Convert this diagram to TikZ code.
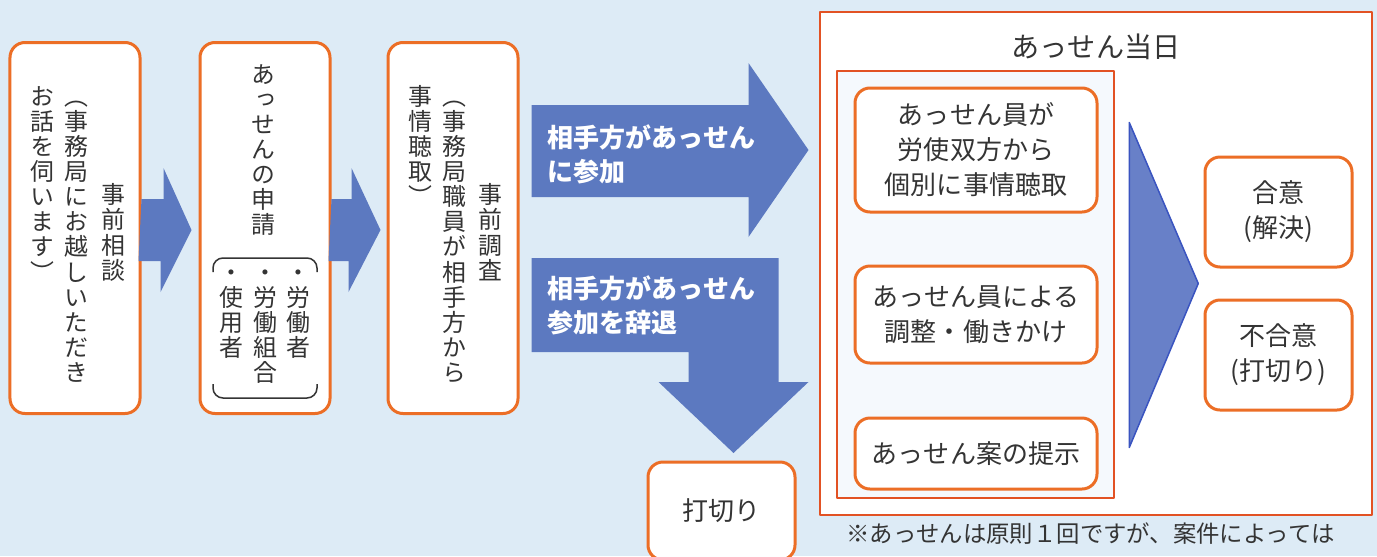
\documentclass[tikz,border=0pt]{standalone}
\usepackage{fontspec}
\usepackage{tikz}
\usetikzlibrary{positioning,calc}
\setmainfont{Noto Sans CJK JP}
\newfontfamily\tatefont[RawFeature=+vert]{Noto Sans CJK JP}
\definecolor{bgblue}{RGB}{221,235,246}
\definecolor{boxorange}{RGB}{236,110,38}
\definecolor{framered}{RGB}{226,82,36}
\definecolor{arrowblue}{RGB}{92,121,192}
\definecolor{edgeblue}{RGB}{58,84,192}
\definecolor{wedgeblue}{RGB}{104,128,200}
\definecolor{inkgray}{RGB}{52,52,52}
\definecolor{procfill}{RGB}{245,249,253}
% one glyph per line, for the upright columns
\ExplSyntaxOn
\NewDocumentCommand \tate { m }
  {
    \vtop
      {
        \offinterlineskip
        \tl_map_inline:nn {#1}
          {
            \hbox_to_wd:nn {1em}
              { \hss \vrule~height~.88em~depth~.12em~width~0pt ##1 \hss }
            \kern.05em
          }
      }
  }
\ExplSyntaxOff
\tikzset{
  flow box/.style={
    draw=boxorange,
    line width=0.6mm,
    fill=white,
    rounded corners=3mm,
    inner sep=0pt,
    text=inkgray,
    align=center,
    font=\fontsize{14.8pt}{19.9pt}\selectfont
  },
  tall box/.style={
    flow box,
    minimum width=26mm,
    minimum height=74.2mm
  },
  step box/.style={
    flow box,
    minimum width=48.4mm
  },
  result box/.style={
    flow box,
    minimum width=29.4mm,
    minimum height=22mm
  },
  frame/.style={
    draw=framered,
    line width=0.5mm,
    inner sep=0pt
  },
  tate text/.style={
    inner sep=0pt,
    text=inkgray,
    font=\tatefont\fontsize{13.6pt}{13.6pt}\selectfont
  },
  arrow text/.style={
    inner sep=0pt,
    text=white,
    align=left,
    font=\bfseries\fontsize{14.8pt}{19.4pt}\selectfont
  },
  block arrow/.style={fill=arrowblue},
  bracket/.style={draw=inkgray, line width=0.3mm, rounded corners=2mm}
}

\begin{document}
\begin{tikzpicture}[x=0.2mm, y=-0.2mm, line join=round]
 \fill[bgblue] (0,0) rectangle (1377,556);
 \useasboundingbox (0,0) rectangle (1377,556);
 % before the day
 \node[tall box] (box_1) at (75,228) {};
 \node[tall box] (box_2) at (265,228) {};
 \node[tall box] (box_3) at (453,228) {};
 \node[tate text] (head_1) at (113,233) {\tate{事前相談}};
 \node[tate text, anchor=north] (sub_1a) at (76,84) {\tate{（事務局にお越しいただき}};
 \node[tate text, anchor=north] (sub_1b) at (42,84) {\tate{お話を伺います）}};
 \node[tate text, anchor=north] (head_2) at (263,62) {\tate{あっせんの申請}};
 \node[tate text, anchor=north] (who_1) at (298,260) {\tate{・労働者}};
 \node[tate text, anchor=north] (who_2) at (265,260) {\tate{・労働組合}};
 \node[tate text, anchor=north] (who_3) at (231,260) {\tate{・使用者}};
 \draw[bracket] (213,272) -- (213,258) -- (317,258) -- (317,272);
 \draw[bracket] (213,384) -- (213,398) -- (317,398) -- (317,384);
 \node[tate text] (head_3) at (490,233) {\tate{事前調査}};
 \node[tate text, anchor=north] (sub_3a) at (454,84) {\tate{（事務局職員が相手方から}};
 \node[tate text, anchor=north] (sub_3b) at (420,84) {\tate{事情聴取）}};
 \fill[block arrow] (box_1.east) ++(0,-29) -- ++(22,0) -- ++(0,-31)
   -- ($(box_2.west)+(-7,2)$) -- ++(-31,62) -- ++(0,-31) -- ++(-22,0) -- cycle;
 \fill[block arrow] (box_2.east) ++(0,-29) -- ++(20,0) -- ++(0,-31)
   -- ($(box_3.west)+(-6,2)$) -- ++(-32,62) -- ++(0,-31) -- ++(-20,0) -- cycle;
 % the other side answers
 \node[tall box, minimum width=29.4mm, minimum height=19.6mm] (cut) at (721.5,511) {打切り};
 \fill[block arrow] ($(box_3.east)+(12,-123)$) -- ++(217,0) -- ++(0,-42)
   -- ++(60,87) -- ++(-60,87) -- ++(0,-40) -- ++(-217,0) -- cycle;
 \fill[block arrow] ($(box_3.east)+(12,30)$) -- ++(247,0) -- ++(0,124)
   -- ++(30,0) -- ++(-75,71) -- ++(-75,-71) -- ++(30,0) -- ++(0,-30)
   -- ++(-157,0) -- cycle;
 \node[arrow text, anchor=west] (join_t) at (547,154) {相手方があっせん\\に参加};
 \node[arrow text, anchor=west] (decline_t) at (547,305) {相手方があっせん\\参加を辞退};
 % the day itself
 \node[frame, fill=white, minimum width=110.4mm, minimum height=100.6mm] (day) at (1096,263.5) {};
 \node[inner sep=0pt, text=inkgray, font=\fontsize{16pt}{16pt}\selectfont, below=4.6mm of day.north] (day_t) {あっせん当日};
 \node[frame, fill=procfill, minimum width=55.4mm, minimum height=85.4mm] (proc) at (975.5,284.5) {};
 \node[step box, minimum height=24.8mm] (step_1) at (976,150) {あっせん員が\\労使双方から\\個別に事情聴取};
 \node[step box, minimum height=19.4mm] (step_2) [below=10.2mm of step_1] {あっせん員による\\調整・働きかけ};
 \node[step box, minimum height=14.2mm] (step_3) [below=10.4mm of step_2] {あっせん案の提示};
 \filldraw[fill=wedgeblue, draw=edgeblue, line width=0.3mm]
   ($(proc.east)+(14,-162)$) -- ++(69,161) -- ++(-69,164) -- cycle;
 \node[result box] (agree) at (1278.5,212) {合意\\(解決)};
 \node[result box] (disagree) [below=6mm of agree] {不合意\\(打切り)};
 \node[inner sep=0pt, anchor=west, text=inkgray, font=\fontsize{13.3pt}{13.3pt}\selectfont] (note) at (846,534) {※あっせんは原則１回ですが、案件によっては};
\end{tikzpicture}
\end{document}
